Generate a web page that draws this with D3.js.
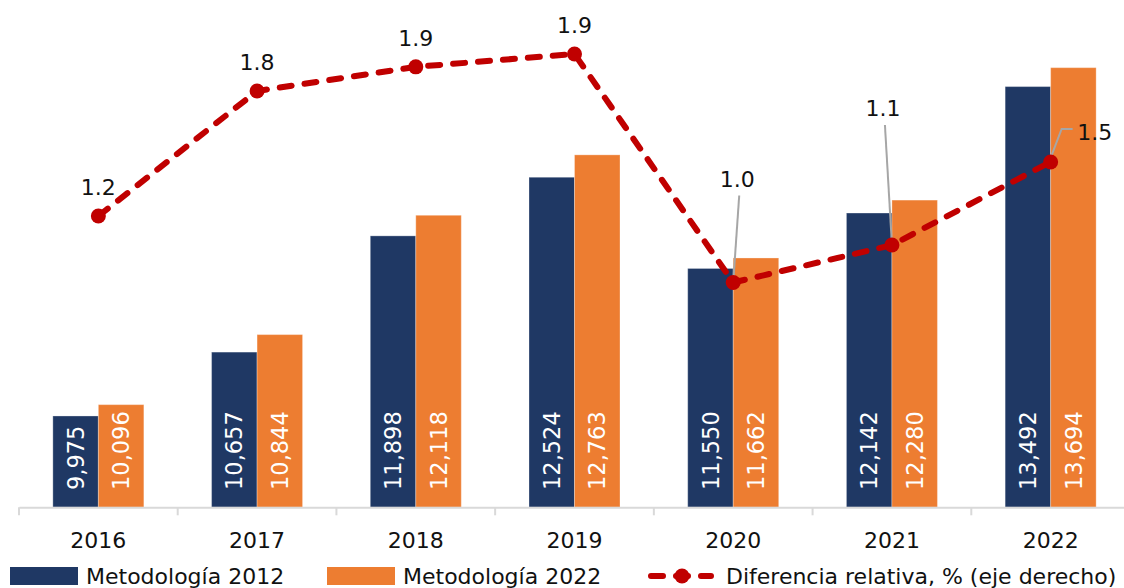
<!DOCTYPE html>
<html>
<head>
<meta charset="utf-8">
<script src="https://cdn.jsdelivr.net/npm/d3@7"></script>
<style>
  body { margin: 0; background: #fff; }
  svg { display: block; font-family: "DejaVu Sans", sans-serif; }
</style>
</head>
<body>
<svg id="chart" width="1124" height="588"></svg>
<script>
// data
const years = ["2016", "2017", "2018", "2019", "2020", "2021", "2022"];
const met2012 = [9975, 10657, 11898, 12524, 11550, 12142, 13492];
const met2022 = [10096, 10844, 12118, 12763, 11662, 12280, 13694];
const difRel = [1.244, 1.778, 1.881, 1.936, 0.96, 1.12, 1.475];
const seriesNames = ["Metodología 2012", "Metodología 2022", "Diferencia relativa, % (eje derecho)"];
const leftDomain = [9000, 14000];
const rightDomain = [0, 2];

const colors = { m12: "#1F3864", m22: "#ED7D31", line: "#C00000", axis: "#D9D9D9", lead: "#A6A6A6" };

const svg = d3.select("#chart");
const baseY = 507.3, topY = 39;

const x = d3.scaleBand().domain(years).range([19, 1130]).padding(0);
const yL = d3.scaleLinear().domain(leftDomain).range([baseY, topY]);
const yR = d3.scaleLinear().domain(rightDomain).range([baseY, topY]);
const inner = d3.scaleBand().domain(["m12", "m22"]).range([-45.5, 45.5]);
const cx = d => x(d) + x.bandwidth() / 2;

const rows = years.map((y, i) => ({ year: y, m12: met2012[i], m22: met2022[i], dif: difRel[i] }));

// bars
const groups = svg.append("g").selectAll("g")
  .data(rows)
  .join("g")
  .attr("transform", d => `translate(${cx(d.year)},0)`);

groups.selectAll("rect")
  .data(d => ["m12", "m22"].map(k => ({ key: k, value: d[k] })))
  .join("rect")
  .attr("x", d => inner(d.key))
  .attr("width", inner.bandwidth())
  .attr("y", d => yL(d.value))
  .attr("height", d => baseY - yL(d.value))
  .attr("fill", d => colors[d.key])
  .attr("stroke", "rgba(255,255,255,0.3)")
  .attr("stroke-width", 1);

groups.selectAll("text")
  .data(d => ["m12", "m22"].map(k => ({ key: k, value: d[k] })))
  .join("text")
  .attr("transform", d => `translate(${inner(d.key) + inner.bandwidth() / 2},490) rotate(-90)`)
  .attr("dy", "0.36em")
  .attr("fill", "#fff")
  .attr("font-size", 22.5)
  .text(d => d3.format(",")(d.value));

// x axis
const xAxis = svg.append("g")
  .attr("transform", `translate(0,${baseY})`)
  .call(d3.axisBottom(x).tickSize(0).tickPadding(25));
xAxis.select(".domain").attr("stroke", colors.axis).attr("stroke-width", 2);
xAxis.selectAll("text").attr("font-size", 22).attr("fill", "#111").attr("font-family", "DejaVu Sans");

svg.append("g").selectAll("line")
  .data(years.concat(["end"]))
  .join("line")
  .attr("x1", (d, i) => x.range()[0] + i * x.step())
  .attr("x2", (d, i) => x.range()[0] + i * x.step())
  .attr("y1", baseY)
  .attr("y2", baseY + 8)
  .attr("stroke", colors.axis)
  .attr("stroke-width", 2);

// relative difference line
const line = d3.line().x(d => cx(d.year)).y(d => yR(d.dif));
svg.append("path")
  .datum(rows)
  .attr("d", line)
  .attr("fill", "none")
  .attr("stroke", colors.line)
  .attr("stroke-width", 6)
  .attr("stroke-dasharray", "12,13")
  .attr("stroke-linecap", "round");

// leader lines for the shifted labels
const labelShift = {
  "2020": { dx: 4, dy: -103, lead: [[6, -87], [0, 0]] },
  "2021": { dx: -9, dy: -137, lead: [[-7, -120], [0, 0]] },
  "2022": { dx: 44, dy: -30, lead: [[22, -33], [11, -33], [0, -4]] }
};

svg.append("g").selectAll("path")
  .data(rows.filter(d => labelShift[d.year]))
  .join("path")
  .attr("d", d => d3.line()(labelShift[d.year].lead.map(p => [cx(d.year) + p[0], yR(d.dif) + p[1]])))
  .attr("fill", "none")
  .attr("stroke", colors.lead)
  .attr("stroke-width", 2);

svg.append("g").selectAll("circle")
  .data(rows)
  .join("circle")
  .attr("cx", d => cx(d.year))
  .attr("cy", d => yR(d.dif))
  .attr("r", 7.5)
  .attr("fill", colors.line);

svg.append("g").selectAll("text")
  .data(rows)
  .join("text")
  .attr("x", d => cx(d.year) + (labelShift[d.year] ? labelShift[d.year].dx : 0))
  .attr("y", d => yR(d.dif) + (labelShift[d.year] ? labelShift[d.year].dy : -29))
  .attr("dy", "0.36em")
  .attr("text-anchor", "middle")
  .attr("font-size", 22)
  .attr("fill", "#111")
  .text(d => d3.format(".1f")(d.dif));

// legend
const legY = 576;
const leg = svg.append("g");
leg.append("rect").attr("x", 10).attr("y", legY - 9).attr("width", 68).attr("height", 18).attr("fill", colors.m12);
leg.append("text").attr("x", 86).attr("y", legY).attr("dy", "0.36em").attr("font-size", 22).attr("fill", "#111").text(seriesNames[0]);
leg.append("rect").attr("x", 327).attr("y", legY - 9).attr("width", 68).attr("height", 18).attr("fill", colors.m22);
leg.append("text").attr("x", 403).attr("y", legY).attr("dy", "0.36em").attr("font-size", 22).attr("fill", "#111").text(seriesNames[1]);
leg.append("line").attr("x1", 651).attr("x2", 711).attr("y1", legY).attr("y2", legY)
  .attr("stroke", colors.line).attr("stroke-width", 6).attr("stroke-dasharray", "12,13").attr("stroke-linecap", "round");
leg.append("circle").attr("cx", 682).attr("cy", legY).attr("r", 7.5).attr("fill", colors.line);
leg.append("text").attr("x", 726).attr("y", legY).attr("dy", "0.36em").attr("font-size", 22).attr("fill", "#111").text(seriesNames[2]);
</script>
</body>
</html>
